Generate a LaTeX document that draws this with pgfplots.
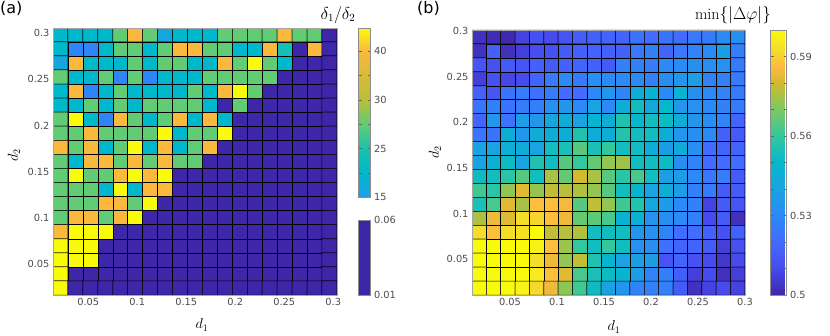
\documentclass[border=0pt]{standalone}
\usepackage{pgfplots}
\pgfplotsset{compat=1.18}
\usepackage{fontspec}
\setsansfont{DejaVu Sans}
\newfontfamily\tickfont{DejaVu Sans}

\pgfplotsset{
  colormap={parula}{rgb(0pt)=(0.2422,0.1504,0.6603) rgb(10pt)=(0.28,0.29,0.93)
    rgb(20pt)=(0.26,0.42,1.0) rgb(30pt)=(0.17,0.54,0.96) rgb(40pt)=(0.10,0.64,0.88)
    rgb(50pt)=(0.02,0.72,0.80) rgb(60pt)=(0.20,0.78,0.62) rgb(70pt)=(0.48,0.79,0.38)
    rgb(80pt)=(0.82,0.73,0.18) rgb(86pt)=(0.99,0.73,0.25) rgb(93pt)=(0.96,0.87,0.16)
    rgb(100pt)=(0.98,0.98,0.05)},
  % cells of (a): values in units of delta1/delta2 times 10
  colormap={ratio}{rgb(0pt)=(0.2422,0.1504,0.6603) rgb(100pt)=(0.2422,0.1504,0.6603)
    rgb(120pt)=(0.18,0.52,0.97) rgb(150pt)=(0.12,0.62,0.90) rgb(200pt)=(0.0,0.72,0.80)
    rgb(250pt)=(0.10,0.76,0.68) rgb(275pt)=(0.38,0.80,0.45) rgb(300pt)=(0.72,0.75,0.22)
    rgb(400pt)=(0.98,0.72,0.24) rgb(450pt)=(0.98,0.98,0.05)},
  colormap={cbupper}{rgb(0pt)=(0.12,0.62,0.90) rgb(50pt)=(0.0,0.72,0.80)
    rgb(100pt)=(0.10,0.76,0.68) rgb(150pt)=(0.38,0.80,0.45) rgb(200pt)=(0.72,0.75,0.22)
    rgb(300pt)=(0.98,0.72,0.24) rgb(348pt)=(0.98,0.98,0.05)},
  colormap={cblower}{rgb(0pt)=(0.2422,0.1504,0.6603) rgb(1pt)=(0.2422,0.1504,0.6603)},
  heat/.style={
    scale only axis, axis on top,
    major tick length=0pt,
    axis line style={black!35},
    xtick={0.05,0.1,0.15,0.2,0.25,0.3},
    xticklabels={0.05,0.1,0.15,0.2,0.25,0.3},
    ytick={0.05,0.1,0.15,0.2,0.25,0.3},
    yticklabels={0.05,0.1,0.15,0.2,0.25,0.3},
    tick label style={font=\tickfont\fontsize{9.8}{10}\selectfont, text=black!70},
  },
  cbar/.style={
    scale only axis,
    scaled y ticks=false,
    axis line style={black!45},
    tick align=inside,
    major tick length=3pt, minor tick length=0pt,
    tick style={black!60},
    yticklabel style={font=\tickfont\fontsize{9.8}{10}\selectfont, text=black!70},
  },
  cells/.style={matrix plot*, mesh/cols=19, point meta=explicit,
    shader=faceted, faceted color=black, line width=0.5pt},
}

\begin{document}
\begin{tikzpicture}[x=1pt,y=1pt]
\useasboundingbox (0,0) rectangle (830,335);

% ---------------- (a) ----------------
\begin{axis}[heat, at={(53pt,40pt)}, anchor=south west, width=284pt, height=267pt,
  xmin=0.0140, xmax=0.3038, ymin=0.0162, ymax=0.3057,
  colormap name=ratio, point meta min=0, point meta max=45]
\addplot[cells]
  table[row sep=\\, header=false, meta index=0,
    x expr={0.0216+0.01525*(\coordindex-19*floor((\coordindex+0.5)/19))},
    y expr={0.0238+0.01525*(18-floor((\coordindex+0.5)/19))}] {
20\\ 20\\ 20\\ 20\\ 27.5\\ 40\\ 27.5\\ 16.5\\ 20\\ 20\\ 20\\ 27.5\\ 27.5\\ 27.5\\ 27.5\\ 40\\ 27.5\\ 27.5\\ 0.03\\
20\\ 12\\ 12\\ 20\\ 27.5\\ 27.5\\ 20\\ 27.5\\ 40\\ 40\\ 27.5\\ 27.5\\ 20\\ 20\\ 40\\ 24\\ 0.03\\ 40\\ 0.03\\
16.5\\ 40\\ 20\\ 20\\ 20\\ 27.5\\ 20\\ 27.5\\ 27.5\\ 20\\ 20\\ 40\\ 27.5\\ 45\\ 27.5\\ 20\\ 0.03\\ 0.03\\ 0.03\\
27.5\\ 20\\ 20\\ 27.5\\ 12\\ 27.5\\ 12\\ 20\\ 20\\ 20\\ 27.5\\ 27.5\\ 27.5\\ 27.5\\ 27.5\\ 0.03\\ 0.03\\ 0.03\\ 0.03\\
20\\ 40\\ 12\\ 20\\ 27.5\\ 20\\ 20\\ 20\\ 20\\ 27.5\\ 20\\ 40\\ 45\\ 27.5\\ 0.03\\ 0.03\\ 0.03\\ 0.03\\ 0.03\\
20\\ 20\\ 27.5\\ 20\\ 27.5\\ 20\\ 27.5\\ 27.5\\ 27.5\\ 27.5\\ 20\\ 0.03\\ 27.5\\ 0.03\\ 0.03\\ 0.03\\ 0.03\\ 0.03\\ 0.03\\
27.5\\ 45\\ 20\\ 12\\ 40\\ 27.5\\ 20\\ 27.5\\ 40\\ 20\\ 40\\ 20\\ 0.03\\ 0.03\\ 0.03\\ 0.03\\ 0.03\\ 0.03\\ 0.03\\
27.5\\ 27.5\\ 40\\ 27.5\\ 27.5\\ 27.5\\ 27.5\\ 45\\ 20\\ 27.5\\ 27.5\\ 45\\ 0.03\\ 0.03\\ 0.03\\ 0.03\\ 0.03\\ 0.03\\ 0.03\\
40\\ 27.5\\ 40\\ 20\\ 27.5\\ 45\\ 20\\ 40\\ 20\\ 27.5\\ 40\\ 0.03\\ 0.03\\ 0.03\\ 0.03\\ 0.03\\ 0.03\\ 0.03\\ 0.03\\
27.5\\ 20\\ 40\\ 40\\ 27.5\\ 40\\ 27.5\\ 40\\ 27.5\\ 27.5\\ 0.03\\ 0.03\\ 0.03\\ 0.03\\ 0.03\\ 0.03\\ 0.03\\ 0.03\\ 0.03\\
27.5\\ 45\\ 27.5\\ 27.5\\ 40\\ 45\\ 40\\ 45\\ 0.03\\ 0.03\\ 0.03\\ 0.03\\ 0.03\\ 0.03\\ 0.03\\ 0.03\\ 0.03\\ 0.03\\ 0.03\\
27.5\\ 27.5\\ 27.5\\ 20\\ 45\\ 20\\ 40\\ 40\\ 0.03\\ 0.03\\ 0.03\\ 0.03\\ 0.03\\ 0.03\\ 0.03\\ 0.03\\ 0.03\\ 0.03\\ 0.03\\
27.5\\ 27.5\\ 27.5\\ 40\\ 40\\ 27.5\\ 45\\ 0.03\\ 0.03\\ 0.03\\ 0.03\\ 0.03\\ 0.03\\ 0.03\\ 0.03\\ 0.03\\ 0.03\\ 0.03\\ 0.03\\
27.5\\ 40\\ 40\\ 27.5\\ 40\\ 45\\ 0.03\\ 0.03\\ 0.03\\ 0.03\\ 0.03\\ 0.03\\ 0.03\\ 0.03\\ 0.03\\ 0.03\\ 0.03\\ 0.03\\ 0.03\\
40\\ 45\\ 45\\ 45\\ 0.03\\ 0.03\\ 0.03\\ 0.03\\ 0.03\\ 0.03\\ 0.03\\ 0.03\\ 0.03\\ 0.03\\ 0.03\\ 0.03\\ 0.03\\ 0.03\\ 0.03\\
45\\ 45\\ 45\\ 0.03\\ 0.03\\ 0.03\\ 0.03\\ 0.03\\ 0.03\\ 0.03\\ 0.03\\ 0.03\\ 0.03\\ 0.03\\ 0.03\\ 0.03\\ 0.03\\ 0.03\\ 0.03\\
45\\ 45\\ 45\\ 0.03\\ 0.03\\ 0.03\\ 0.03\\ 0.03\\ 0.03\\ 0.03\\ 0.03\\ 0.03\\ 0.03\\ 0.03\\ 0.03\\ 0.03\\ 0.03\\ 0.03\\ 0.03\\
45\\ 0.03\\ 0.03\\ 0.03\\ 0.03\\ 0.03\\ 0.03\\ 0.03\\ 0.03\\ 0.03\\ 0.03\\ 0.03\\ 0.03\\ 0.03\\ 0.03\\ 0.03\\ 0.03\\ 0.03\\ 0.03\\
45\\ 0.03\\ 0.03\\ 0.03\\ 0.03\\ 0.03\\ 0.03\\ 0.03\\ 0.03\\ 0.03\\ 0.03\\ 0.03\\ 0.03\\ 0.03\\ 0.03\\ 0.03\\ 0.03\\ 0.03\\ 0.03\\
};
\end{axis}

% colour bars of (a): upper one for delta1/delta2 >= 15, lower one for small values
\begin{axis}[at={(53pt,40pt)}, anchor=south west, scale only axis, width=284pt, height=267pt,
  hide axis, xmin=0, xmax=1, ymin=0, ymax=1,
  colormap name=cbupper, point meta min=0, point meta max=3.48, colorbar,
  colorbar style={cbar, at={(parent axis.north east)}, anchor=north west, xshift=13pt,
    width=12pt, height=169pt, ytick={0,1,2,3}, yticklabels={15,25,30,40},
    minor ytick={0.5,1.5,2.5}, minor tick length=3pt}]
\end{axis}
\begin{axis}[at={(53pt,40pt)}, anchor=south west, scale only axis, width=284pt, height=267pt,
  hide axis, xmin=0, xmax=1, ymin=0, ymax=1,
  colormap name=cblower, point meta min=0.01, point meta max=0.06, colorbar,
  colorbar style={cbar, at={(parent axis.south east)}, anchor=south west, xshift=13pt,
    width=12pt, height=75pt, ytick={0.01,0.06}, yticklabels={0.01,0.06}}]
\end{axis}

% ---------------- (b) ----------------
\begin{axis}[heat, at={(472pt,40pt)}, anchor=south west, width=273pt, height=265pt,
  xmin=0.0096, xmax=0.3, ymin=0.0109, ymax=0.301,
  colormap name=parula, point meta min=0.5, point meta max=0.6, colorbar,
  colorbar style={cbar, at={(parent axis.north east)}, anchor=north west, xshift=17pt,
    width=16pt, height=265pt, ytick={0.5,0.53,0.56,0.59}, yticklabels={0.5,0.53,0.56,0.59},
    minor ytick={0.51,0.52,0.54,0.55,0.57,0.58}, minor tick length=3pt}]
\addplot[cells]
  table[row sep=\\, header=false, meta index=0,
    x expr={0.0172+0.01528*(\coordindex-19*floor((\coordindex+0.5)/19))},
    y expr={0.0185+0.01527*(18-floor((\coordindex+0.5)/19))}] {
0.503\\ 0.502\\ 0.501\\ 0.508\\ 0.512\\ 0.510\\ 0.513\\ 0.516\\ 0.517\\ 0.518\\ 0.518\\ 0.523\\ 0.520\\ 0.523\\ 0.520\\ 0.524\\ 0.525\\ 0.530\\ 0.532\\
0.503\\ 0.517\\ 0.503\\ 0.507\\ 0.511\\ 0.512\\ 0.515\\ 0.517\\ 0.518\\ 0.517\\ 0.517\\ 0.524\\ 0.527\\ 0.518\\ 0.524\\ 0.528\\ 0.530\\ 0.538\\ 0.526\\
0.513\\ 0.512\\ 0.515\\ 0.513\\ 0.517\\ 0.515\\ 0.517\\ 0.518\\ 0.517\\ 0.515\\ 0.527\\ 0.527\\ 0.525\\ 0.530\\ 0.530\\ 0.532\\ 0.532\\ 0.533\\ 0.525\\
0.507\\ 0.512\\ 0.509\\ 0.510\\ 0.518\\ 0.525\\ 0.530\\ 0.525\\ 0.533\\ 0.530\\ 0.530\\ 0.530\\ 0.527\\ 0.532\\ 0.535\\ 0.538\\ 0.527\\ 0.527\\ 0.525\\
0.517\\ 0.513\\ 0.523\\ 0.526\\ 0.522\\ 0.525\\ 0.520\\ 0.520\\ 0.530\\ 0.535\\ 0.528\\ 0.545\\ 0.548\\ 0.530\\ 0.548\\ 0.532\\ 0.530\\ 0.528\\ 0.525\\
0.523\\ 0.527\\ 0.523\\ 0.525\\ 0.527\\ 0.533\\ 0.535\\ 0.530\\ 0.540\\ 0.530\\ 0.545\\ 0.553\\ 0.542\\ 0.550\\ 0.535\\ 0.533\\ 0.530\\ 0.527\\ 0.525\\
0.518\\ 0.535\\ 0.523\\ 0.538\\ 0.535\\ 0.542\\ 0.545\\ 0.540\\ 0.548\\ 0.545\\ 0.556\\ 0.550\\ 0.553\\ 0.552\\ 0.545\\ 0.535\\ 0.532\\ 0.528\\ 0.518\\
0.523\\ 0.523\\ 0.545\\ 0.535\\ 0.545\\ 0.545\\ 0.545\\ 0.556\\ 0.545\\ 0.545\\ 0.557\\ 0.553\\ 0.553\\ 0.545\\ 0.535\\ 0.532\\ 0.530\\ 0.517\\ 0.515\\
0.540\\ 0.540\\ 0.546\\ 0.545\\ 0.540\\ 0.553\\ 0.555\\ 0.565\\ 0.555\\ 0.560\\ 0.553\\ 0.553\\ 0.545\\ 0.538\\ 0.545\\ 0.532\\ 0.520\\ 0.518\\ 0.518\\
0.540\\ 0.547\\ 0.552\\ 0.540\\ 0.556\\ 0.553\\ 0.565\\ 0.560\\ 0.567\\ 0.573\\ 0.574\\ 0.553\\ 0.553\\ 0.552\\ 0.532\\ 0.528\\ 0.520\\ 0.520\\ 0.520\\
0.552\\ 0.553\\ 0.558\\ 0.565\\ 0.553\\ 0.575\\ 0.567\\ 0.580\\ 0.575\\ 0.565\\ 0.558\\ 0.563\\ 0.553\\ 0.538\\ 0.537\\ 0.530\\ 0.524\\ 0.526\\ 0.515\\
0.562\\ 0.558\\ 0.573\\ 0.582\\ 0.573\\ 0.578\\ 0.577\\ 0.576\\ 0.573\\ 0.565\\ 0.553\\ 0.548\\ 0.540\\ 0.545\\ 0.537\\ 0.527\\ 0.525\\ 0.515\\ 0.515\\
0.555\\ 0.563\\ 0.582\\ 0.575\\ 0.587\\ 0.587\\ 0.585\\ 0.565\\ 0.578\\ 0.573\\ 0.562\\ 0.557\\ 0.542\\ 0.537\\ 0.530\\ 0.527\\ 0.508\\ 0.515\\ 0.513\\
0.576\\ 0.584\\ 0.582\\ 0.593\\ 0.591\\ 0.587\\ 0.584\\ 0.567\\ 0.566\\ 0.563\\ 0.547\\ 0.547\\ 0.533\\ 0.532\\ 0.530\\ 0.527\\ 0.510\\ 0.515\\ 0.503\\
0.593\\ 0.587\\ 0.593\\ 0.594\\ 0.600\\ 0.578\\ 0.577\\ 0.576\\ 0.553\\ 0.553\\ 0.553\\ 0.535\\ 0.533\\ 0.528\\ 0.520\\ 0.520\\ 0.517\\ 0.512\\ 0.517\\
0.600\\ 0.600\\ 0.600\\ 0.600\\ 0.598\\ 0.587\\ 0.574\\ 0.560\\ 0.553\\ 0.560\\ 0.553\\ 0.533\\ 0.532\\ 0.522\\ 0.518\\ 0.518\\ 0.515\\ 0.507\\ 0.512\\
0.600\\ 0.600\\ 0.600\\ 0.600\\ 0.593\\ 0.584\\ 0.573\\ 0.578\\ 0.556\\ 0.548\\ 0.540\\ 0.538\\ 0.538\\ 0.513\\ 0.518\\ 0.512\\ 0.510\\ 0.505\\ 0.510\\
0.600\\ 0.600\\ 0.600\\ 0.600\\ 0.596\\ 0.587\\ 0.582\\ 0.563\\ 0.555\\ 0.552\\ 0.548\\ 0.538\\ 0.528\\ 0.527\\ 0.516\\ 0.507\\ 0.510\\ 0.503\\ 0.507\\
0.600\\ 0.600\\ 0.600\\ 0.598\\ 0.592\\ 0.584\\ 0.572\\ 0.562\\ 0.552\\ 0.540\\ 0.535\\ 0.528\\ 0.527\\ 0.527\\ 0.515\\ 0.503\\ 0.508\\ 0.510\\ 0.508\\
};
\end{axis}

% panel letters, colour bar titles and axis labels
\node[anchor=north west, inner sep=0pt, font=\tickfont\fontsize{16}{16}\selectfont] at (0,334) {(a)};
\node[anchor=north west, inner sep=0pt, font=\tickfont\fontsize{16}{16}\selectfont] at (417,334) {(b)};
\node[font=\fontsize{16}{16}\selectfont] at (338,320) {$\delta_1/\delta_2$};
\node[font=\fontsize{16}{16}\selectfont] at (733,320) {$\min\{|\Delta\varphi|\}$};
\node[font=\fontsize{14}{14}\selectfont] at (202,10) {$d_1$};
\node[font=\fontsize{14}{14}\selectfont] at (614,8) {$d_1$};
\node[rotate=90, font=\fontsize{14}{14}\selectfont] at (14,180) {$d_2$};
\node[rotate=90, font=\fontsize{14}{14}\selectfont] at (435,183) {$d_2$};
\end{tikzpicture}
\end{document}
